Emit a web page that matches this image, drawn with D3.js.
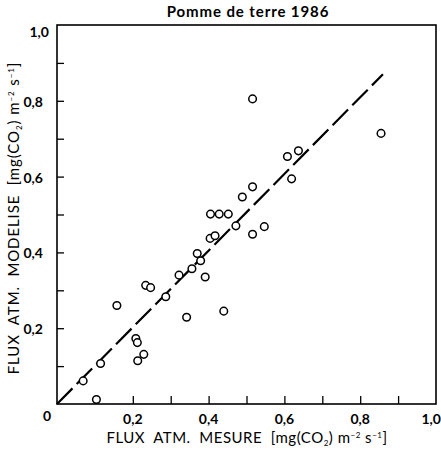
<!DOCTYPE html>
<html>
<head>
<meta charset="utf-8">
<script src="https://cdn.jsdelivr.net/npm/d3@7"></script>
<style>
  body { margin: 0; background: #fff; }
  svg text { font-family: Lato, "Open Sans", sans-serif; fill: #000; white-space: pre; }
</style>
</head>
<body>
<svg id="chart" width="441" height="450"></svg>
<script>
// measured flux (x) vs modelled flux (y), mg(CO2) m-2 s-1
var mesure = [0.069, 0.104, 0.115, 0.158, 0.208, 0.212, 0.213, 0.229, 0.234, 0.247,
              0.287, 0.322, 0.342, 0.356, 0.370, 0.379, 0.391, 0.440, 0.404, 0.417,
              0.405, 0.428, 0.452, 0.472, 0.489, 0.516, 0.516, 0.547, 0.516, 0.608,
              0.619, 0.637, 0.855];
var modelise = [0.061, 0.012, 0.107, 0.260, 0.173, 0.162, 0.114, 0.131, 0.313, 0.307,
                0.283, 0.340, 0.229, 0.357, 0.397, 0.378, 0.335, 0.245, 0.437, 0.444,
                0.501, 0.501, 0.501, 0.470, 0.546, 0.573, 0.448, 0.468, 0.805, 0.653,
                0.594, 0.668, 0.714];
// fitted line ends
var ligneX = [0, 0.86];
var ligneY = [0, 0.87];
var xTicks = [0.1, 0.2, 0.3, 0.4, 0.5, 0.6, 0.7, 0.8, 0.9];
var xLabels = [0.2, 0.4, 0.6, 0.8];
var yTicks = [0.1, 0.2, 0.3, 0.4, 0.5, 0.6, 0.7, 0.8, 0.9];
var yLabels = [0.2, 0.4, 0.6, 0.8];

var svg = d3.select("#chart");
var mLeft = 57, mRight = 436, mTop = 25, mBottom = 404;

var x = d3.scaleLinear().domain([0, 1]).range([mLeft, mRight]);
var y = d3.scaleLinear().domain([0, 1]).range([mBottom, mTop]);
var fmt = function(d){ return d3.format(".1f")(d).replace(".", ","); };

// inward ticks
svg.append("g")
  .attr("transform", "translate(0," + mBottom + ")")
  .call(d3.axisTop(x).tickValues(xTicks).tickSize(8).tickFormat(""))
  .call(function(g){ g.select(".domain").remove(); })
  .selectAll("line").attr("stroke", "#000").attr("stroke-width", 1.3);

svg.append("g")
  .attr("transform", "translate(" + mLeft + ",0)")
  .call(d3.axisRight(y).tickValues(yTicks).tickSize(7).tickFormat(""))
  .call(function(g){ g.select(".domain").remove(); })
  .selectAll("line").attr("stroke", "#000").attr("stroke-width", 1.3);

// frame
svg.append("rect")
  .attr("x", mLeft).attr("y", mTop)
  .attr("width", mRight - mLeft).attr("height", mBottom - mTop)
  .attr("fill", "none").attr("stroke", "#000").attr("stroke-width", 1.6);

// tick labels
svg.append("g").selectAll("text").data(xLabels).join("text")
  .attr("x", function(d){ return x(d); })
  .attr("y", 424)
  .attr("text-anchor", "middle")
  .attr("font-size", 14).attr("font-weight", 700)
  .text(fmt);

// last x label sits at the right edge
svg.append("text")
  .attr("x", 441).attr("y", 424)
  .attr("text-anchor", "end")
  .attr("font-size", 14).attr("font-weight", 700)
  .text(fmt(1.0));

svg.append("text")
  .attr("x", 47).attr("y", 421)
  .attr("text-anchor", "middle")
  .attr("font-size", 14).attr("font-weight", 700)
  .text("0");

svg.append("g").selectAll("text").data(yLabels).join("text")
  .attr("x", 43)
  .attr("y", function(d){ return y(d) + 6; })
  .attr("text-anchor", "end")
  .attr("font-size", 14).attr("font-weight", 700)
  .text(fmt);

svg.append("text")
  .attr("x", 49).attr("y", y(1.0) + 12)
  .attr("text-anchor", "end")
  .attr("font-size", 14).attr("font-weight", 700)
  .text(fmt(1.0));

// regression line
var line = d3.line()
  .x(function(d){ return x(d[0]); })
  .y(function(d){ return y(d[1]); });

svg.append("path")
  .datum(d3.zip(ligneX, ligneY))
  .attr("d", line)
  .attr("fill", "none")
  .attr("stroke", "#000")
  .attr("stroke-width", 2.2)
  .attr("stroke-dasharray", "22,6");

// points
svg.append("g").selectAll("circle").data(d3.zip(mesure, modelise)).join("circle")
  .attr("cx", function(d){ return x(d[0]); })
  .attr("cy", function(d){ return y(d[1]); })
  .attr("r", 3.8)
  .attr("fill", "#fff")
  .attr("stroke", "#000")
  .attr("stroke-width", 1.5);

// title
svg.append("text")
  .attr("x", 248).attr("y", 17)
  .attr("text-anchor", "middle")
  .attr("font-size", 15).attr("font-weight", 700)
  .attr("letter-spacing", 0.9)
  .text("Pomme de terre 1986");

// axis titles
function unitLabel(t, label){
  t.append("tspan").text(label + "  [mg(CO");
  t.append("tspan").attr("font-size", 8).attr("dy", 3).text("2");
  t.append("tspan").attr("dy", -3).text(") m");
  t.append("tspan").attr("font-size", 8).attr("dy", -5).text("−2");
  t.append("tspan").attr("dy", 5).text(" s");
  t.append("tspan").attr("font-size", 8).attr("dy", -5).text("−1");
  t.append("tspan").attr("dy", 5).text("]");
}

var xt = svg.append("text")
  .attr("x", 247).attr("y", 443)
  .attr("text-anchor", "middle")
  .attr("font-size", 15)
  .attr("letter-spacing", 0.5);
unitLabel(xt, "FLUX  ATM.  MESURE");

var yt = svg.append("text")
  .attr("transform", "translate(19,218) rotate(-90)")
  .attr("text-anchor", "middle")
  .attr("font-size", 15)
  .attr("letter-spacing", 0.9);
unitLabel(yt, "FLUX  ATM.  MODELISE");
</script>
</body>
</html>
